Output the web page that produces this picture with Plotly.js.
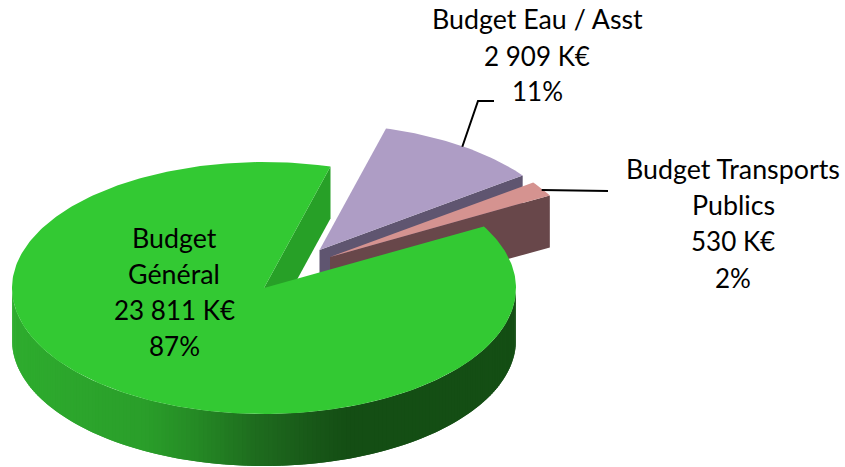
<!DOCTYPE html>
<html>
<head>
<meta charset="utf-8">
<script src="https://cdn.plot.ly/plotly-3.0.1.min.js"></script>
<style>html,body{margin:0;padding:0;background:#fff}#c{width:845px;height:467px}</style>
</head>
<body>
<div id="c"></div>
<script>
// Data
const categories = ['Budget Général', 'Budget Eau / Asst', 'Budget Transports Publics'];
const values = [23811, 2909, 530];
const labelLines = [
  ['Budget', 'Général', '23 811 K€', '87%'],
  ['Budget Eau / Asst', '2 909 K€', '11%'],
  ['Budget Transports', 'Publics', '530 K€', '2%']
];
const labelSizes = [
  [26.8, 26.8, 26, 26],
  [26.8, 26, 26],
  [26.8, 26.8, 26, 26]
];
const topColors = ['#33c933', '#ae9dc5', '#d59390'];
const cutColors = ['#27a027', '#5f5570', '#68474a'];
const sideStops = [[12,[46,172,46]],[150,[42,158,42]],[200,[37,138,37]],[260,[30,108,30]],[310,[25,90,25]],[350,[20,78,20]],[516,[20,78,20]]];

// Projection of the 3D pie onto the page
const cx = 264, cy = 288, rx = 252, ry = 126, depth = 52, firstAngle = 15.3;
const explode = [[0,0],[55.5,-38],[66,-31]];
const labelAnchors = [[174,[238,274,310,346]],[537,[19,56,91]],[733,[169,205,241,278]]];
const leaderX = [[462.3,478,494],[541.7,608]];
const leaderY = [[146.7,101,101],[190,191]];
const fontName = 'Lato, Carlito, sans-serif';

const total = values.reduce((a,b)=>a+b,0);
const sweep = values.map(v=>v/total*360);
// clockwise order from firstAngle: Eau, Transports, Général
const startA = [firstAngle+sweep[1]+sweep[2], firstAngle, firstAngle+sweep[1]];
const pt = (i,a,d=0)=>{
  const r=a*Math.PI/180;
  return [cx+explode[i][0]+rx*Math.sin(r), cy+explode[i][1]-ry*Math.cos(r)+d];
};
const poly=(pts,color)=>({
  type:'scatter',mode:'lines',fill:'toself',fillcolor:color,
  x:pts.map(p=>p[0]),y:pts.map(p=>p[1]),
  line:{color:color,width:0},hoverinfo:'skip',showlegend:false
});
const sector=i=>{
  const pts=[[cx+explode[i][0],cy+explode[i][1]]];
  const n=Math.ceil(sweep[i]);
  for(let k=0;k<=n;k++)pts.push(pt(i,startA[i]+sweep[i]*k/n));
  pts.push(pts[0]);
  return poly(pts,topColors[i]);
};
const cut=(i,angle)=>{
  const a=[cx+explode[i][0],cy+explode[i][1]];
  const e=pt(i,angle);
  return poly([a,e,[e[0],e[1]+depth],[a[0],a[1]+depth],a],cutColors[i]);
};
const sideColor=x=>{
  for(let k=1;k<sideStops.length;k++){
    if(x<=sideStops[k][0]){
      const [x0,c0]=sideStops[k-1],[x1,c1]=sideStops[k];
      const f=Math.max(0,(x-x0)/(x1-x0));
      return 'rgb('+c0.map((c,j)=>Math.round(c+(c1[j]-c)*f)).join(',')+')';
    }
  }
  return 'rgb('+sideStops[sideStops.length-1][1].join(',')+')';
};
const traces=[];
traces.push(cut(1,startA[1]+sweep[1]),sector(1));
traces.push(cut(2,startA[2]+sweep[2]),sector(2));
traces.push(cut(0,firstAngle));
// Outer wall of Général: overlapping strips, each painted over part of the previous one
const wallStep=1;
for(let a=270;a>90;a-=wallStep){
  const lo=a-wallStep, hi=Math.min(a+wallStep,270);
  const arc=[];
  for(let k=0;k<=4;k++)arc.push(pt(0,lo+(hi-lo)*k/4));
  const low=[];
  for(let k=4;k>=0;k--)low.push(pt(0,lo+(hi-lo)*k/4,depth));
  const p=arc.concat(low);p.push(p[0]);
  traces.push(poly(p,sideColor(pt(0,a-wallStep/2)[0])));
}
traces.push(sector(0));
leaderX.forEach((xs,i)=>traces.push({type:'scatter',mode:'lines',x:xs,y:leaderY[i],
  line:{color:'#000',width:2},hoverinfo:'skip',showlegend:false}));

const annotations=[];
labelLines.forEach((lines,i)=>lines.forEach((t,j)=>annotations.push({
  text:t,x:labelAnchors[i][0],y:labelAnchors[i][1][j],xref:'x',yref:'y',
  showarrow:false,xanchor:'center',yanchor:'middle',
  font:{family:fontName,size:labelSizes[i][j],color:'#000'}
})));

Plotly.newPlot('c',traces,{
  width:845,height:467,margin:{l:0,r:0,t:0,b:0},
  paper_bgcolor:'#fff',plot_bgcolor:'#fff',showlegend:false,
  xaxis:{range:[0,845],visible:false,fixedrange:true},
  yaxis:{range:[467,0],visible:false,fixedrange:true},
  annotations
},{displayModeBar:false,staticPlot:true});
</script>
</body>
</html>
